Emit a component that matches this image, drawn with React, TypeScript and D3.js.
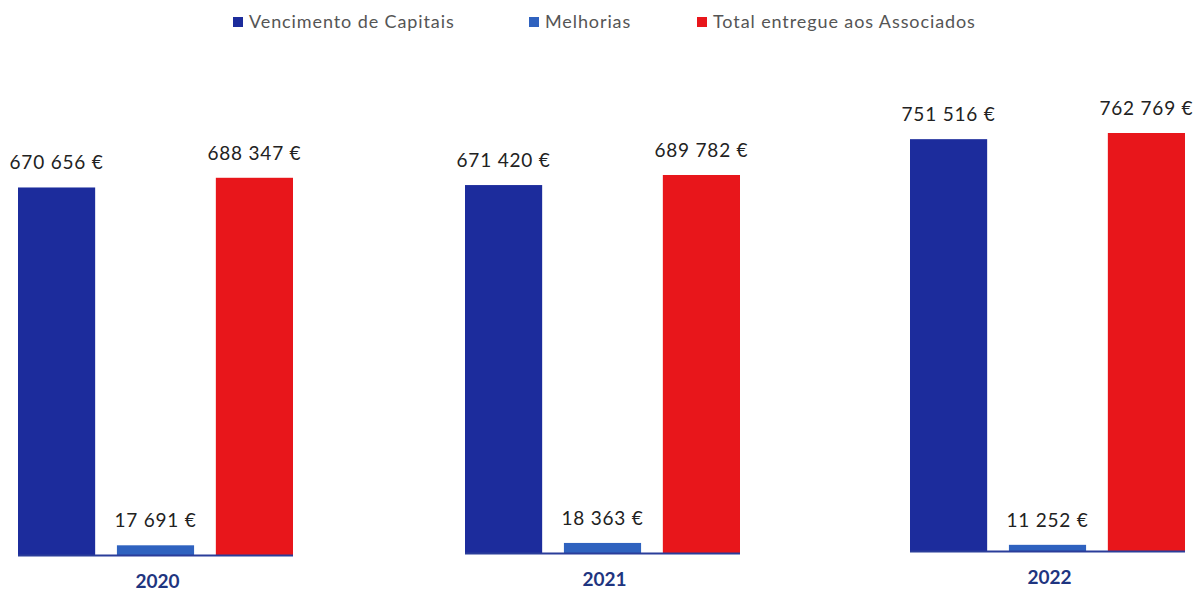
import React from "react";
import * as d3 from "d3";

const years = ["2020", "2021", "2022"];
const seriesNames = ["Vencimento de Capitais", "Melhorias", "Total entregue aos Associados"];
const vencimento = [670656, 671420, 751516];
const melhorias = [17691, 18363, 11252];
const totalEntregue = [688347, 689782, 762769];

const colors = ["#1c2c9c", "#2f62bf", "#e8161b"];
const panelX = [18, 465, 910];
const panelBase = [555, 553, 551];
const panelW = 275;
const FONT = "Lato, 'Open Sans', sans-serif";

const fmt = (v: number) => d3.format(",")(v).replace(/,/g, " ") + " €";

export default function App() {
  const y = d3.scaleLinear().domain([0, 762769]).range([0, 418]);
  const legendX = [233, 529, 697];
  return (
    <svg width={1201} height={592} style={{ position: "absolute", left: 0, top: 0, background: "#fff" }}>
      <rect width={1201} height={592} fill="#fff" />
      {seriesNames.map((n, i) => (
        <g key={n}>
          <rect x={legendX[i]} y={17} width={10} height={10} fill={colors[i]} />
          <text x={legendX[i] + 16} y={28} fontFamily={FONT} fontSize={18} letterSpacing={0.9} fill="#555">{n}</text>
        </g>
      ))}
      {years.map((yr, p) => {
        const vals = [vencimento[p], melhorias[p], totalEntregue[p]];
        const xb = d3.scaleBand<number>().domain([0, 1, 2]).range([panelX[p], panelX[p] + panelW]).paddingInner(0.22).paddingOuter(0);
        const base = panelBase[p];
        return (
          <g key={yr}>
            {vals.map((v, i) => (
              <g key={i}>
                <rect x={xb(i)} y={base - y(v)} width={xb.bandwidth()} height={y(v)} fill={colors[i]} />
                <text x={(xb(i) as number) + xb.bandwidth() / 2} y={base - y(v) - 18} textAnchor="middle" fontFamily={FONT} fontSize={19} letterSpacing={0.8} fill="#222">{fmt(v)}</text>
              </g>
            ))}
            <line x1={panelX[p]} x2={panelX[p] + panelW} y1={base + 0.5} y2={base + 0.5} stroke="#2a3d9a" strokeWidth={2} />
            <text x={panelX[p] + panelW / 2 + 2} y={base + 33} textAnchor="middle" fontFamily={FONT} fontSize={19} fontWeight="bold" fill="#1f3580">{yr}</text>
          </g>
        );
      })}
    </svg>
  );
}
